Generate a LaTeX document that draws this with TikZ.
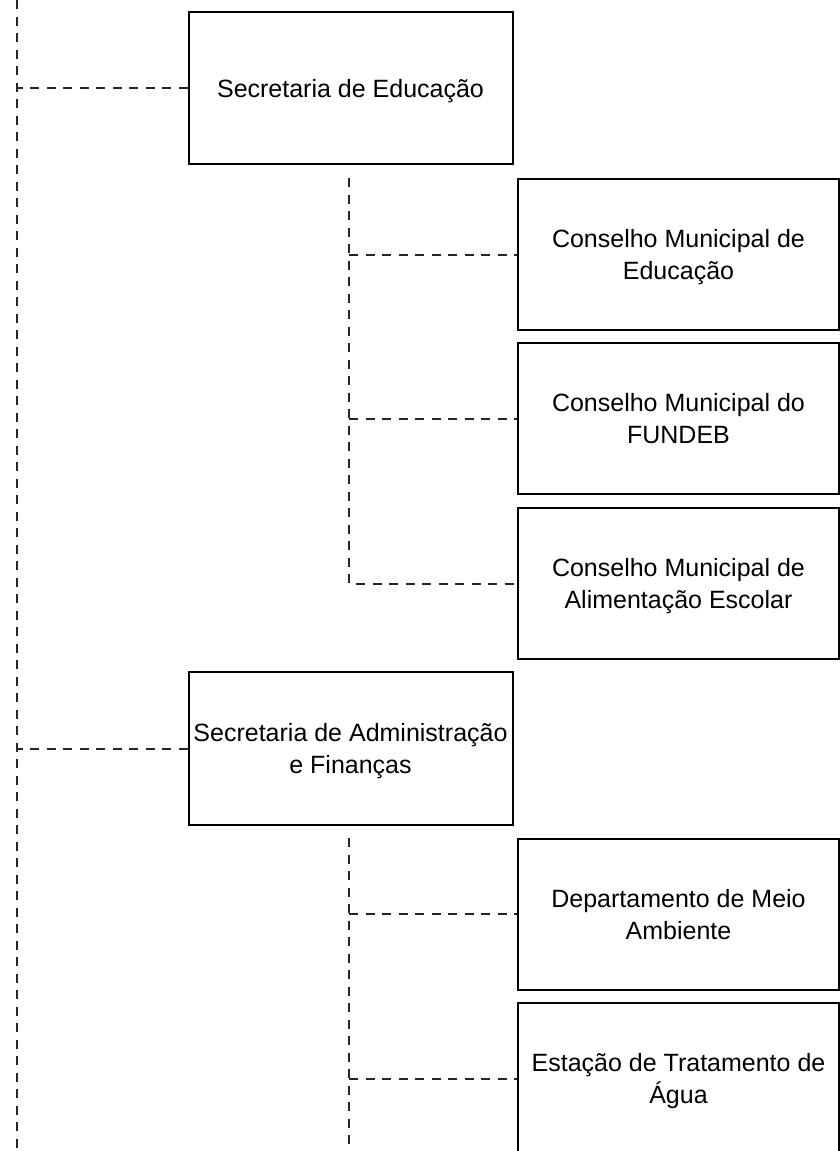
\documentclass[tikz,border=0pt]{standalone}
\usepackage{fontspec}
\setmainfont{Liberation Sans}
\begin{document}
\begin{tikzpicture}[x=1pt,y=-1pt,
  box/.style={draw=black, line width=2pt, fill=white, minimum width=324pt, minimum height=152pt, align=center, inner sep=0pt, text depth=-2pt, font=\fontsize{25}{32}\selectfont},
  sub/.style={box, minimum width=321pt, minimum height=151pt},
  link/.style={draw=black!85, line width=2pt, dash pattern=on 9pt off 7.5pt}]
\useasboundingbox (0,0) rectangle (840,1151);
\clip (0,0) rectangle (840,1151);
% trunk
\coordinate (ttop) at (17,0);
\coordinate (tbot) at (17,1151);
\draw[link] (ttop) -- (tbot);
% first branch
\node[box] (se) at (350.5,88) {Secretaria de Educação};
\node[sub] (c1) at (678.5,254.5) {Conselho Municipal de\\Educação};
\node[sub] (c2) at (678.5,418.5) {Conselho Municipal do\\FUNDEB};
\node[sub] (c3) at (678.5,583.5) {Conselho Municipal de\\Alimentação Escolar};
\draw[link] (se.west) -- (se.west -| ttop);
\coordinate (b1top) at (349,178);
\draw[link] (b1top) -- (b1top |- c3.west) -- (c3.west);
\draw[link] (b1top |- c1.west) -- (c1.west);
\draw[link] (b1top |- c2.west) -- (c2.west);
% second branch
\node[box, minimum height=153pt] (sa) at (350.5,748.5) {Secretaria de Administração\\e Finanças};
\node[sub] (d1) at (678.5,914) {Departamento de Meio\\Ambiente};
\node[sub] (d2) at (678.5,1078.5) {Estação de Tratamento de\\Água};
\draw[link] (sa.west) -- (sa.west -| ttop);
\coordinate (b2top) at (349,838);
\coordinate (b2bot) at (349,1151);
\draw[link] (b2top) -- (b2bot);
\draw[link] (b2top |- d1.west) -- (d1.west);
\draw[link] (b2top |- d2.west) -- (d2.west);
\end{tikzpicture}
\end{document}
